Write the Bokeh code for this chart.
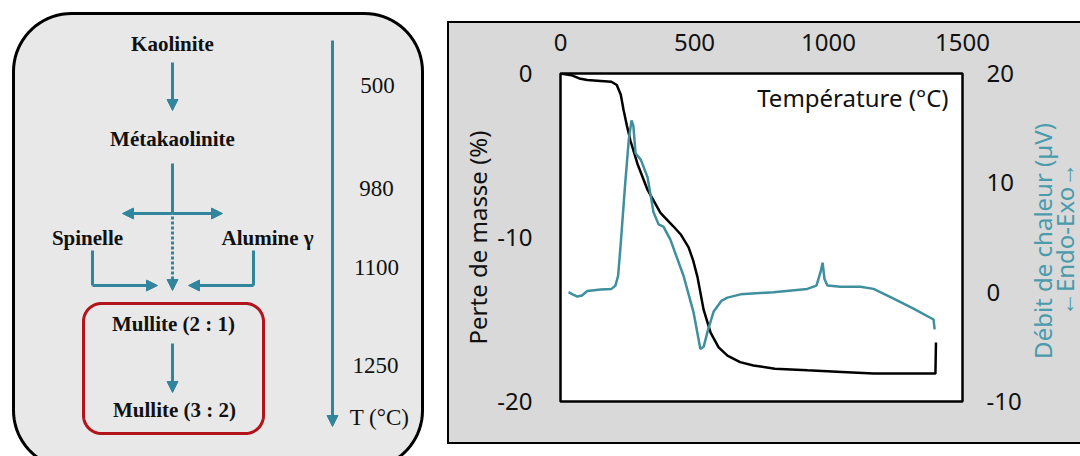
import numpy as np
from bokeh.plotting import figure
from bokeh.models import (Range1d, LinearAxis, FixedTicker, Label, Arrow, NormalHead, Spacer,
                          PrintfTickFormatter)
from bokeh.layouts import row, column
from bokeh.core.properties import value
from bokeh.embed import file_html
from bokeh.resources import INLINE

# ---------------- data ----------------
mass_temp = [0, 40, 70, 100, 150, 190, 210, 225, 235, 248, 261, 287, 325, 373, 420, 448, 478,
             495, 511, 534, 560, 590, 623, 670, 720, 800, 921, 1050, 1168, 1300, 1399, 1401]
mass_loss = [0, -0.1, -0.3, -0.4, -0.45, -0.5, -0.7, -1.3, -2.2, -3.2, -4.1, -5.5, -7.1, -8.5,
             -9.3, -9.8, -10.6, -11.4, -12.4, -14.4, -15.8, -16.7, -17.2, -17.6, -17.8, -18.0,
             -18.1, -18.2, -18.3, -18.3, -18.3, -16.4]

heat_temp = [30, 45, 63, 80, 100, 150, 190, 205, 215, 225, 240, 255, 265, 272, 280, 300, 325,
             347, 366, 384, 410, 459, 496, 522, 534, 550, 571, 600, 623, 672, 795, 921, 955,
             970, 978, 985, 996, 1045, 1119, 1168, 1243, 1317, 1392, 1396]
heat_flow = [0, -0.2, -0.4, -0.3, 0.1, 0.25, 0.3, 0.6, 1.5, 4.5, 9.5, 14, 15.7, 15.2, 12.7,
             12.1, 10.5, 7.3, 6.2, 6.0, 4.8, 1.5, -1.8, -5.2, -5.0, -3.5, -1.8, -0.8, -0.5,
             -0.2, 0, 0.3, 0.6, 1.8, 2.7, 1.2, 0.6, 0.5, 0.5, 0.3, -0.6, -1.5, -2.5, -3.4]

x_ticks = [0, 500, 1000, 1500]
mass_ticks = [-20, -10, 0]
heat_ticks = [-10, 0, 10, 20]

phase_names = ["Kaolinite", "Métakaolinite", "Spinelle", "Alumine γ",
               "Mullite (2 : 1)", "Mullite (3 : 2)"]
stage_temps = ["500", "980", "1100", "1250", "T (°C)"]
heat_title = ["Débit de chaleur (µV)", "←Endo-Exo→"]

# ---------------- styles ----------------
TEAL = "#31859c"
CURVE_TEAL = "#3f8f9d"
LABEL_TEAL = "#4a9bab"
RED = "#b3141c"
PANEL_GRAY = "#d9d9d9"
SERIF = value("Liberation Serif")
SANS = "Noto Sans"


def rounded(x0, y0, x1, y1, r, n=20):
    xs, ys = [], []
    for cx, cy, a0, a1 in [(x1 - r, y0 + r, -90, 0), (x1 - r, y1 - r, 0, 90),
                           (x0 + r, y1 - r, 90, 180), (x0 + r, y0 + r, 180, 270)]:
        t = np.radians(np.linspace(a0, a1, n))
        xs += list(cx + r * np.cos(t))
        ys += list(cy + r * np.sin(t))
    return xs, ys


# ---------------- left panel: transformation diagram ----------------
pa = figure(width=447, height=456, x_range=Range1d(0, 447), y_range=Range1d(456, 0),
            output_backend="svg", toolbar_location=None, min_border=0,
            x_axis_type=None, y_axis_type=None, title=None)
pa.outline_line_color = None
pa.background_fill_color = "white"
pa.border_fill_color = "white"

ox, oy = rounded(13, 13, 422, 468, 58)
pa.patch(ox, oy, fill_color="#e8e8e8", line_color="black", line_width=3)
rx, ry = rounded(83, 303, 263, 433, 18)
pa.patch(rx, ry, fill_color=None, line_color=RED, line_width=3)

pa.text(x=[172, 172, 87, 267, 173, 174], y=[43, 138, 237, 237, 323, 409], text=phase_names,
        text_font=SERIF, text_font_style="bold", text_font_size="21px",
        text_align="center", text_baseline="middle", text_color="#111111")
pa.text(x=[377, 376, 376, 375, 379], y=[85, 188, 267, 365, 417], text=stage_temps,
        text_font=SERIF, text_font_size="23px",
        text_align="center", text_baseline="middle", text_color="#111111")

# plain connector lines
pa.segment(x0=[172, 92, 253], y0=[163, 250, 250], x1=[172, 92, 253], y1=[213, 285, 285],
           line_color=TEAL, line_width=3)


def arrow(x0, y0, x1, y1, dash="solid"):
    pa.add_layout(Arrow(end=NormalHead(size=11, fill_color=TEAL, line_color=TEAL),
                        x_start=x0, y_start=y0, x_end=x1, y_end=y1,
                        line_color=TEAL, line_width=3, line_dash=dash))


arrow(172, 62, 172, 110)
arrow(172, 213, 122, 213)
arrow(172, 213, 222, 213)
arrow(172, 216, 172, 290, dash="3 2")
arrow(92, 285, 157, 285)
arrow(253, 285, 188, 285)
arrow(172, 343, 172, 392)
arrow(332, 40, 332, 426)

# ---------------- right panel: TG / DSC chart ----------------
pb = figure(width=576, height=419, x_range=Range1d(0, 1500), y_range=Range1d(-20, 0),
            x_axis_location="above", output_backend="svg", toolbar_location=None,
            min_border_left=111, min_border_right=63, min_border_top=50, min_border_bottom=41,
            title=None,
            styles={"box-shadow": "-2px 0 0 0 #000, 0 -2px 0 0 #000, 0 2px 0 0 #000, "
                                  "-2px -2px 0 0 #000, -2px 2px 0 0 #000"})
pb.extra_y_ranges = {"heat": Range1d(-10, 20)}
pb.background_fill_color = "white"
pb.border_fill_color = PANEL_GRAY
pb.outline_line_color = "black"
pb.outline_line_width = 2.5
pb.grid.visible = False

ra = LinearAxis(y_range_name="heat")
pb.add_layout(ra, "right")


def style_axis(ax, ticks, standoff):
    ax.ticker = FixedTicker(ticks=ticks)
    ax.formatter = PrintfTickFormatter(format="%d")
    ax.axis_line_color = None
    ax.major_tick_line_color = None
    ax.minor_tick_line_color = None
    ax.major_tick_out = 0
    ax.major_tick_in = 0
    ax.minor_tick_out = 0
    ax.major_label_text_font = SANS
    ax.major_label_text_font_size = "24px"
    ax.major_label_text_color = "#111111"
    ax.major_label_standoff = standoff


style_axis(pb.xaxis[0], x_ticks, 23)
style_axis(pb.yaxis[0], mass_ticks, 28)
style_axis(ra, heat_ticks, 24)

ly = pb.yaxis[0]
ly.axis_label = "Perte de masse (%)"
ly.axis_label_text_font = SANS
ly.axis_label_text_font_size = "24px"
ly.axis_label_text_font_style = "normal"
ly.axis_label_text_color = "#111111"
ly.axis_label_standoff = 0

pb.line(mass_temp, mass_loss, line_color="black", line_width=2.5)
pb.line(heat_temp, heat_flow, line_color=CURVE_TEAL, line_width=2.5, y_range_name="heat")

pb.add_layout(Label(x=1448, y=-1.46, text="Température (°C)", text_align="right",
                    text_baseline="middle", text_font=SANS, text_font_size="24px",
                    text_color="#111111"))

# strip holding the right-hand (heat flow) axis title, continuing the gray panel
pc = figure(width=55, height=419, x_range=Range1d(1025, 1080), y_range=Range1d(0, 419),
            output_backend="svg", toolbar_location=None, min_border=0,
            x_axis_type=None, y_axis_type=None, title=None,
            styles={"box-shadow": "0 -2px 0 0 #000, 0 2px 0 0 #000"})
pc.outline_line_color = None
pc.background_fill_color = PANEL_GRAY
pc.border_fill_color = PANEL_GRAY
pc.text(x=[1042, 1064], y=[205, 207], text=heat_title, angle=np.pi / 2,
        text_font=value(SANS), text_font_size="24px", text_color=LABEL_TEAL,
        text_align="center", text_baseline="middle")

chart = row(pb, pc, styles={"background-color": PANEL_GRAY})
layout = row(pa, Spacer(width=2), column(Spacer(height=23), chart))
open("out.html", "w").write(file_html(layout, INLINE))
